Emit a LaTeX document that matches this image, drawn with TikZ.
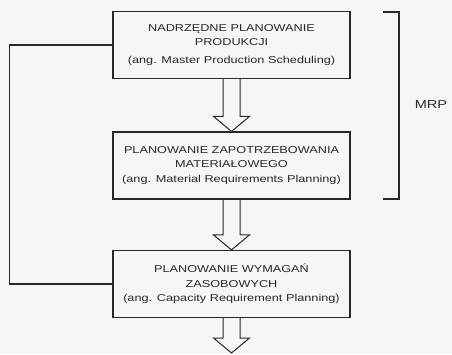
\documentclass[tikz,border=0pt]{standalone}
\usepackage{fontspec}
\setmainfont[FakeStretch=1.27]{Liberation Sans}
\usetikzlibrary{calc}

\definecolor{scanbg}{RGB}{246,246,246}
\definecolor{ink}{RGB}{40,40,40}

\begin{document}
\begin{tikzpicture}[x=1pt,y=-1pt,line width=1.2pt,color=ink,
  stage/.style={draw=ink,minimum width=237pt,minimum height=67pt,inner sep=0pt,
    align=center,text=ink,font=\fontsize{10}{14.5}\selectfont},
  hollow/.style={draw=ink,line width=1pt,line join=miter}]
\fill[scanbg] (0,0) rectangle (452,354);

%: \hollowarrow{<from anchor>}{<to anchor>}
\newcommand{\hollowarrow}[2]{%
\draw[hollow] let \p1=(#1), \p2=(#2) in
 ({\x1-8.5pt},\y1) -- ({\x1-8.5pt},{\y2+15pt}) -- ({\x1-18pt},{\y2+15pt})
 -- (\x1,\y2) -- ({\x1+18pt},{\y2+15pt}) -- ({\x1+8.5pt},{\y2+15pt})
 -- ({\x1+8.5pt},\y1);}

\node[stage] (mps) at (231.5,45)
  {NADRZĘDNE PLANOWANIE\\PRODUKCJI\\[3pt](ang. Master Production Scheduling)};
\node[stage] (mrp) at (231.5,165.5)
  {PLANOWANIE ZAPOTRZEBOWANIA\\MATERIAŁOWEGO\\(ang. Material Requirements Planning)};
\node[stage] (crp) at (231.5,284)
  {PLANOWANIE WYMAGAŃ\\ZASOBOWYCH\\(ang. Capacity Requirement Planning)};
\coordinate (out) at (231.5,353);

\hollowarrow{mps.south}{mrp.north}
\hollowarrow{mrp.south}{crp.north}
\hollowarrow{crp.south}{out}

% feedback line on the left
\draw (crp.west) -- ++(-103,0) |- (mps.west);

% bracket round the first two stages
\coordinate (brtop) at (383,12);
\coordinate (brbot) at (383,199);
\draw (brtop) -- ++(16,0) |- (brbot);
\node[font=\fontsize{11.5}{13}\selectfont] (mrplabel) at (431,105) {MRP};
\end{tikzpicture}
\end{document}
